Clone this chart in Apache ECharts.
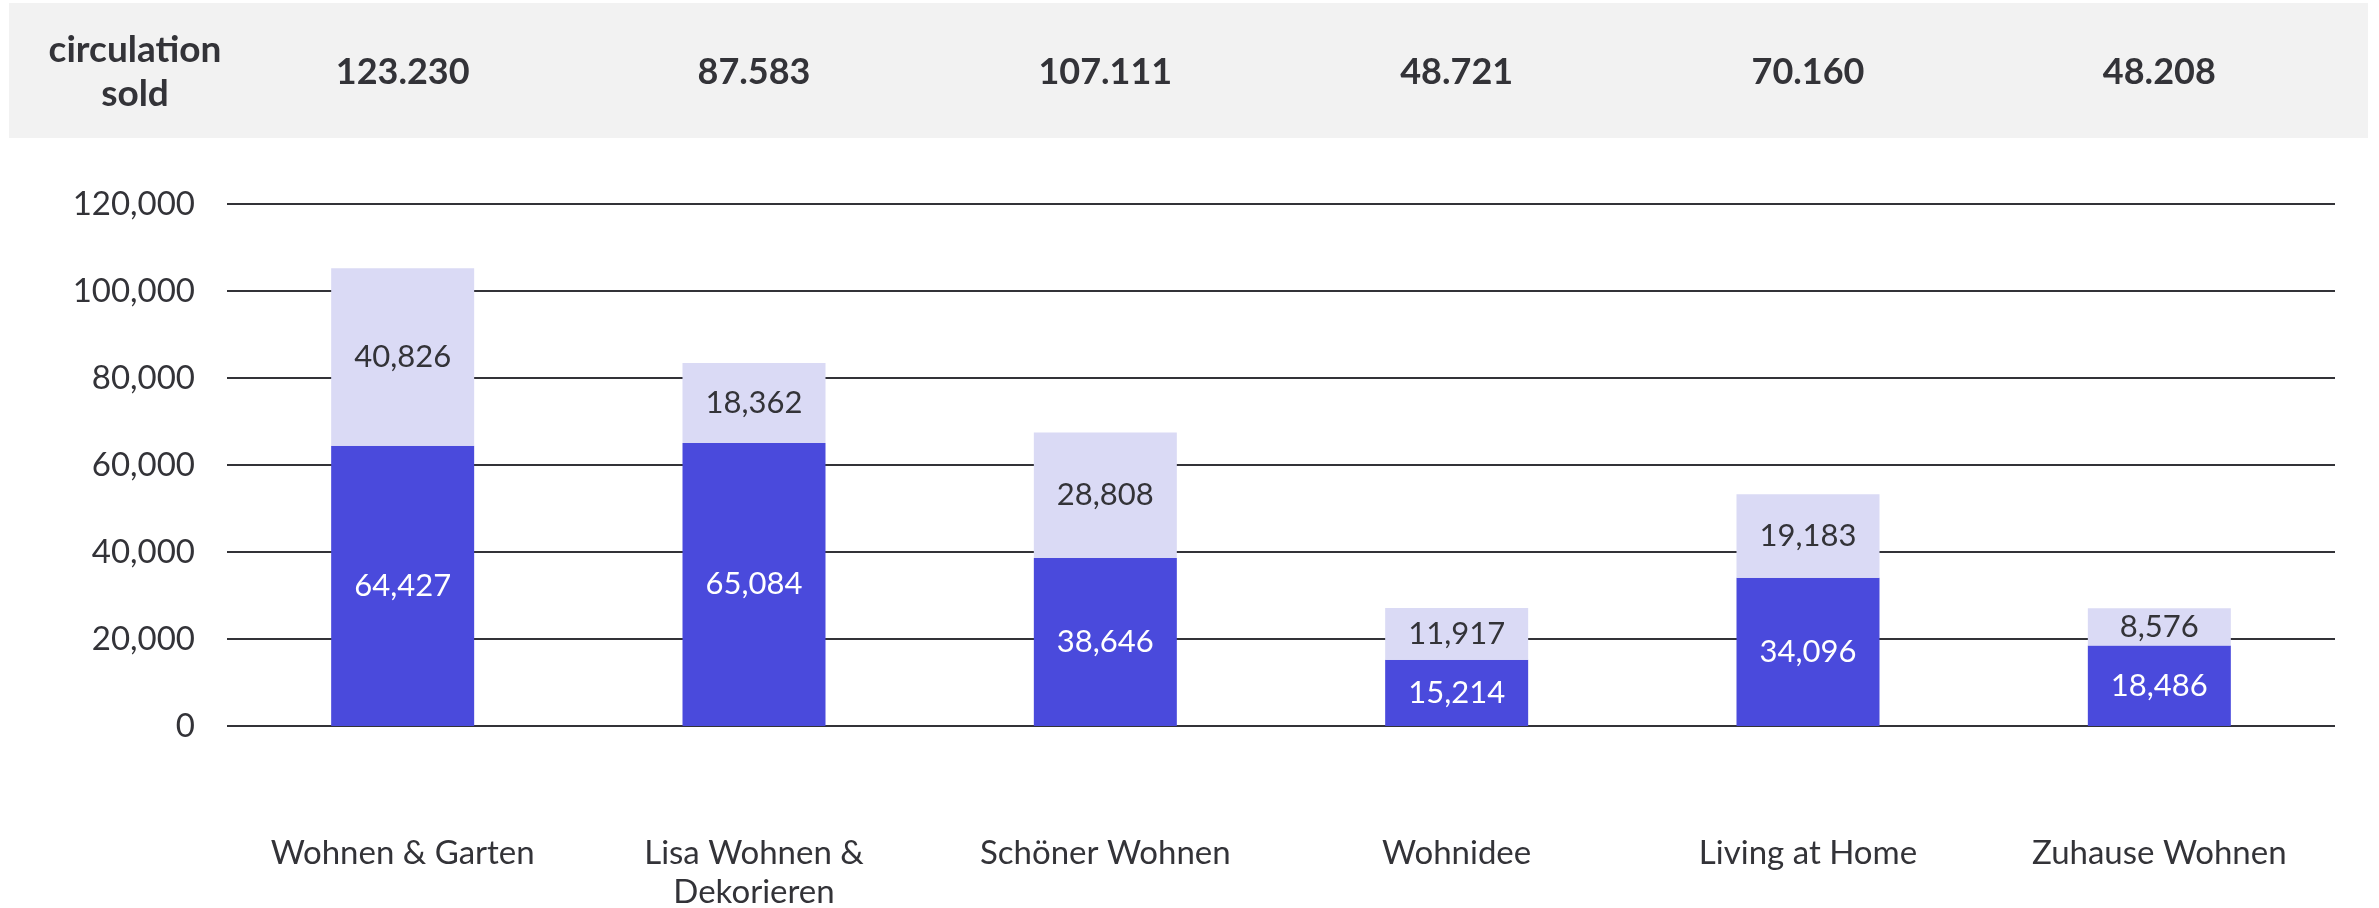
<!DOCTYPE html>
<html lang="en">
<head>
    <meta charset="UTF-8">
    <title>circulation sold</title>
    <script src="https://cdn.jsdelivr.net/npm/echarts@6/dist/echarts.min.js"></script>
    <style>
        html, body { margin: 0; padding: 0; background: #fff; }
        #main { width: 2379px; height: 908px; }
    </style>
</head>
<body>
<div id="main"></div>

<script type="text/javascript">
    // data
    var categories = ['Wohnen & Garten', 'Lisa Wohnen &\nDekorieren', 'Schöner Wohnen', 'Wohnidee', 'Living at Home', 'Zuhause Wohnen'];
    var soldTotals = ['123.230', '87.583', '107.111', '48.721', '70.160', '48.208'];
    var darkValues = [64427, 65084, 38646, 15214, 34096, 18486];
    var lightValues = [40826, 18362, 28808, 11917, 19183, 8576];
    var yTicks = [0, 20000, 40000, 60000, 80000, 100000, 120000];

    var font = 'Lato';
    var textColor = '#333338';

    function fmt(v) {
        return Number(v).toLocaleString('en-US');
    }

    var myChart = echarts.init(document.getElementById('main'));

    var option = {
        backgroundColor: '#ffffff',
        animation: false,
        textStyle: { fontFamily: font },
        graphic: [
            {
                type: 'rect',
                z: -10,
                shape: { x: 9, y: 3, width: 2359, height: 135 },
                style: { fill: '#f2f2f2' }
            },
            {
                type: 'text',
                x: 135,
                y: 72,
                style: {
                    text: 'circulation\nsold',
                    fill: textColor,
                    font: 'bold 37px ' + font,
                    align: 'center',
                    verticalAlign: 'middle',
                    lineHeight: 44
                }
            }
        ],
        grid: {
            left: 227,
            right: 44,
            top: 204,
            bottom: 182,
            outerBoundsMode: 'none'
        },
        xAxis: [
            {
                type: 'category',
                data: categories,
                axisLine: { show: false },
                axisTick: { show: false },
                axisLabel: {
                    color: textColor,
                    fontSize: 33,
                    lineHeight: 39,
                    margin: 108,
                    interval: 0
                }
            },
            {
                type: 'category',
                position: 'top',
                data: soldTotals,
                axisLine: { show: false },
                axisTick: { show: false },
                axisLabel: {
                    color: textColor,
                    fontSize: 36,
                    fontWeight: 'bold',
                    verticalAlign: 'middle',
                    margin: 132,
                    interval: 0
                }
            }
        ],
        yAxis: {
            type: 'value',
            min: yTicks[0],
            max: yTicks[yTicks.length - 1],
            interval: yTicks[1] - yTicks[0],
            axisLine: { show: false },
            axisTick: { show: false },
            axisLabel: {
                color: textColor,
                fontSize: 33,
                margin: 32,
                formatter: function (v) { return fmt(v); }
            },
            splitLine: {
                lineStyle: { color: '#333338', width: 2 }
            }
        },
        series: [
            {
                name: 'dark',
                type: 'bar',
                stack: 'total',
                xAxisIndex: 0,
                barWidth: 143,
                data: darkValues,
                itemStyle: { color: '#4a4adc' },
                label: {
                    show: true,
                    position: 'inside',
                    color: '#ffffff',
                    fontSize: 31,
                    formatter: function (p) { return fmt(p.value); }
                }
            },
            {
                name: 'light',
                type: 'bar',
                stack: 'total',
                xAxisIndex: 0,
                barWidth: 143,
                data: lightValues,
                itemStyle: { color: '#dadaf5' },
                label: {
                    show: true,
                    position: 'inside',
                    color: textColor,
                    fontSize: 31,
                    formatter: function (p) { return fmt(p.value); }
                }
            }
        ]
    };

    myChart.setOption(option);
</script>
</body>
</html>
